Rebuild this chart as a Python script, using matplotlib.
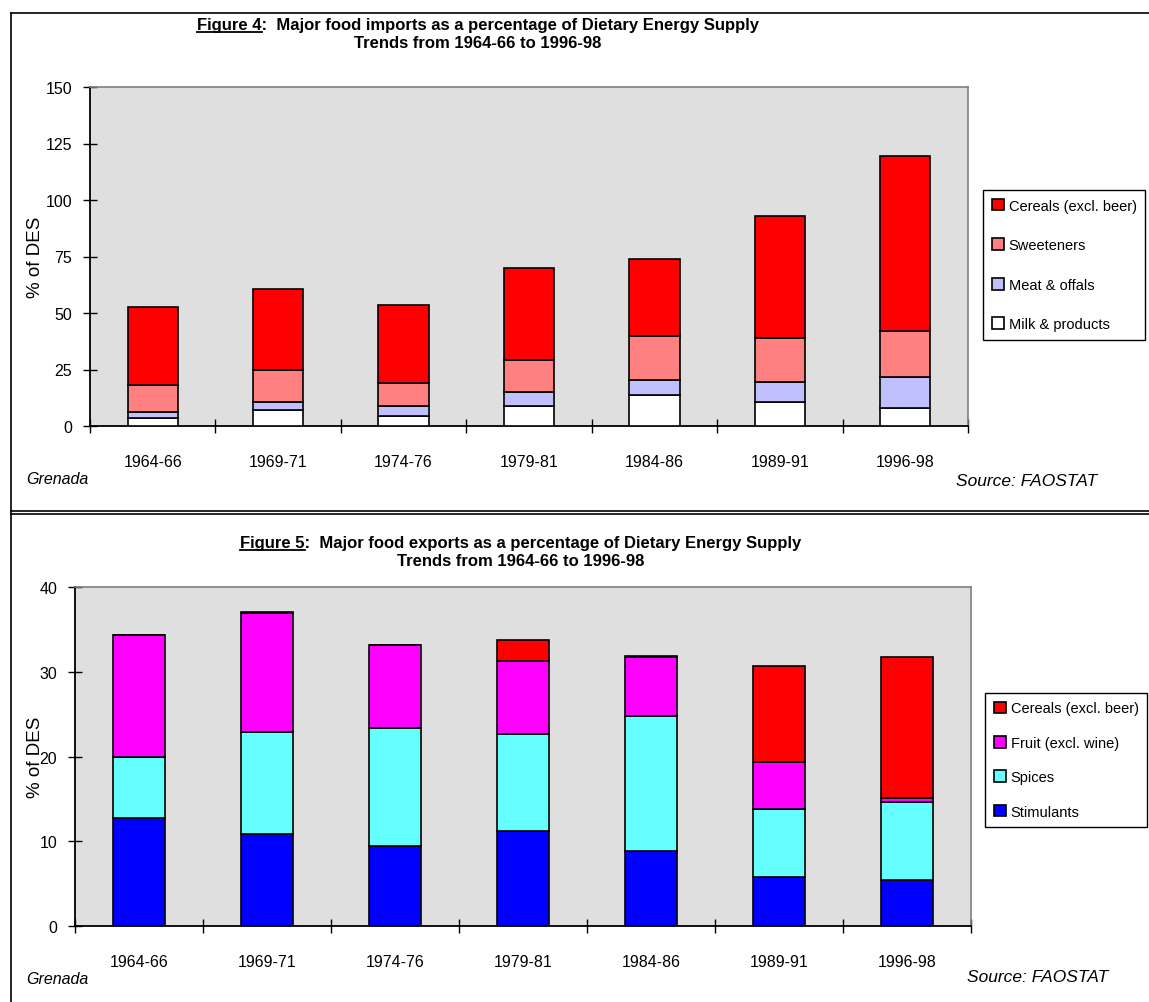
import matplotlib
matplotlib.use('Agg')
import matplotlib.pyplot as plt
from matplotlib.lines import Line2D
import numpy as np

# ---- data ----
periods = ['1964-66', '1969-71', '1974-76', '1979-81', '1984-86', '1989-91', '1996-98']

# Figure 4: imports, % of DES
imp_milk = [3.7, 6.9, 4.4, 8.9, 13.5, 10.7, 8.1]
imp_meat = [2.5, 3.8, 4.5, 6.2, 6.7, 8.8, 13.7]
imp_sweet = [12.1, 14.1, 10.0, 14.1, 19.7, 19.6, 20.4]
imp_cereals = [34.3, 35.6, 34.6, 40.9, 34.1, 54.0, 77.2]

# Figure 5: exports, % of DES
exp_stim = [12.8, 10.8, 9.4, 11.2, 8.9, 5.8, 5.4]
exp_spices = [7.2, 12.1, 14.0, 11.4, 15.9, 8.0, 9.2]
exp_fruit = [14.3, 14.0, 9.7, 8.7, 6.9, 5.5, 0.5]
exp_cereals = [0.0, 0.2, 0.0, 2.4, 0.2, 11.4, 16.6]

imp_labels = ['Milk & products', 'Meat & offals', 'Sweeteners', 'Cereals (excl. beer)']
imp_colors = ['#FFFFFF', '#C0C0FF', '#FF8080', '#FF0000']
exp_labels = ['Stimulants', 'Spices', 'Fruit (excl. wine)', 'Cereals (excl. beer)']
exp_colors = ['#0000FF', '#66FFFF', '#FF00FF', '#FF0000']

plt.rcParams['font.family'] = ['Liberation Sans', 'DejaVu Sans']

W, H = 1149, 1003
fig = plt.figure(figsize=(W / 100, H / 100), dpi=100)


def fx(px):
    return px / W


def fy(py):
    return 1 - py / H


def stacked(ax, series, colors, labels, ymax, ystep):
    x = np.arange(len(periods))
    bottom = np.zeros(len(periods))
    handles = []
    for vals, col, lab in zip(series, colors, labels):
        b = ax.bar(x, vals, 0.4, bottom=bottom, color=col, edgecolor='black',
                   linewidth=1.2, label=lab, zorder=3)
        handles.append(b)
        bottom = bottom + np.array(vals)
    ax.set_facecolor('#DFDFDF')
    ax.set_xlim(-0.5, len(periods) - 0.5)
    ax.set_ylim(0, ymax)
    ax.set_yticks(np.arange(0, ymax + 1, ystep))
    ax.set_xticks(x)
    ax.set_xticklabels(periods)
    ax.set_xticks(np.arange(-0.5, len(periods)), minor=True)
    ax.tick_params(axis='x', which='major', length=0, pad=20, labelsize=11.5)
    ax.tick_params(axis='x', which='minor', direction='inout', length=9.5, width=1)
    ax.tick_params(axis='y', direction='inout', length=9.5, width=1, pad=8, labelsize=11.5)
    for s in ['left', 'bottom']:
        ax.spines[s].set_color('black')
        ax.spines[s].set_linewidth(1.3)
    for s in ['top', 'right']:
        ax.spines[s].set_color('#808080')
        ax.spines[s].set_linewidth(1.2)
    return handles


def title(x_left, y_base, num, rest, line2):
    r = fig.canvas.get_renderer()
    kw = dict(fontsize=12, fontweight='bold', va='baseline', ha='left')
    t = fig.text(fx(x_left), fy(y_base), f'Figure {num}:  {rest}', **kw)
    lead = fig.text(fx(x_left), fy(y_base), f'Figure {num}', **kw)
    bb = t.get_window_extent(r)
    lb = lead.get_window_extent(r)
    lead.remove()
    yl = (H - y_base - 2.5) / H
    fig.add_artist(Line2D([lb.x0 / W, lb.x1 / W], [yl, yl], color='black', lw=1.3))
    cx = (bb.x0 + bb.x1) / 2 / W
    fig.text(cx, fy(y_base + 18), line2, fontsize=12, fontweight='bold',
             va='baseline', ha='center')


def legend(ax, handles, labels, x_left, y_mid, spacing):
    ax.legend(handles[::-1], labels[::-1], loc='center left',
              bbox_to_anchor=(fx(x_left), fy(y_mid)), bbox_transform=fig.transFigure,
              fontsize=10.5, frameon=True, fancybox=False, edgecolor='black',
              framealpha=1, handlelength=0.85, handleheight=0.85, handletextpad=0.3,
              labelspacing=spacing, borderpad=0.6, borderaxespad=0)


# ---- Figure 4 ----
ax1 = fig.add_axes([fx(90), fy(427), (968 - 90) / W, (427 - 88) / H])
h1 = stacked(ax1, [imp_milk, imp_meat, imp_sweet, imp_cereals], imp_colors, imp_labels, 150, 25)
legend(ax1, h1, imp_labels, 983, 266, 1.75)
fig.text(fx(35), fy(257), '% of DES', rotation=90, ha='center', va='center', fontsize=13.5)
title(197, 30, 4, 'Major food imports as a percentage of Dietary Energy Supply',
      'Trends from 1964-66 to 1996-98')
fig.text(fx(26), fy(480), 'Grenada', fontsize=11.5, style='italic', va='center', ha='left')
fig.text(fx(956), fy(482), 'Source: FAOSTAT', fontsize=12.5, style='italic', va='center',
         ha='left')

# ---- Figure 5 ----
ax2 = fig.add_axes([fx(75), fy(927), (971 - 75) / W, (927 - 588) / H])
h2 = stacked(ax2, [exp_stim, exp_spices, exp_fruit, exp_cereals], exp_colors, exp_labels, 40, 10)
legend(ax2, h2, exp_labels, 985, 761, 1.4)
fig.text(fx(36), fy(757), '% of DES', rotation=90, ha='center', va='center', fontsize=13.5)
title(240, 548, 5, 'Major food exports as a percentage of Dietary Energy Supply',
      'Trends from 1964-66 to 1996-98')
fig.text(fx(26), fy(980), 'Grenada', fontsize=11.5, style='italic', va='center', ha='left')
fig.text(fx(967), fy(978), 'Source: FAOSTAT', fontsize=12.5, style='italic', va='center',
         ha='left')

# ---- frame lines ----
for seg in [([11, 11], [14, H]), ([11, W], [14, 14]), ([11, W], [512, 512]), ([11, W], [515, 515])]:
    fig.add_artist(Line2D([fx(v) for v in seg[0]], [fy(v) for v in seg[1]],
                          color='black', lw=1.2))

fig.savefig('out.png', dpi=100)
